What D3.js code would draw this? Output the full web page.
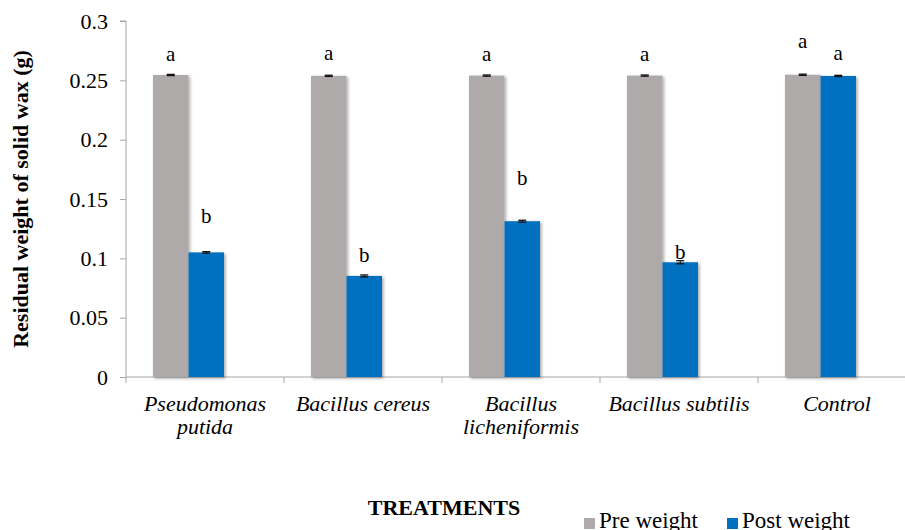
<!DOCTYPE html>
<html>
<head>
<meta charset="utf-8">
<script src="https://cdn.jsdelivr.net/npm/d3@7"></script>
<style>
  html, body { margin: 0; padding: 0; background: #ffffff; }
  svg { display: block; font-family: "Liberation Serif", "Times New Roman", serif; }
  text { font-family: "Liberation Serif", "Times New Roman", serif; fill: #000; }
</style>
</head>
<body>
<svg id="chart" width="905" height="530"></svg>
<script>
// Treatments (each entry also split into the lines it is drawn on)
const categories = ["Pseudomonas putida", "Bacillus cereus", "Bacillus licheniformis", "Bacillus subtilis", "Control"];
const categoryLines = [["Pseudomonas", "putida"], ["Bacillus cereus"], ["Bacillus", "licheniformis"], ["Bacillus subtilis"], ["Control"]];

// Residual weight of solid wax (g)
const preWeight  = [0.2545, 0.2538, 0.2540, 0.2540, 0.2547];
const postWeight = [0.1050, 0.0852, 0.1313, 0.0967, 0.2537];
const preErr     = [0.0005, 0.0005, 0.0005, 0.0005, 0.0005];
const postErr    = [0.0006, 0.0008, 0.0008, 0.0013, 0.0005];

// Significance letters and the height (g) at which each one sits
const preLetters   = ["a", "a", "a", "a", "a"];
const postLetters  = ["b", "b", "b", "b", "a"];
const preLetterAt  = [0.266, 0.267, 0.266, 0.266, 0.277];
const postLetterAt = [0.130, 0.097, 0.162, 0.0995, 0.267];

const yTicks = [0, 0.05, 0.1, 0.15, 0.2, 0.25, 0.3];
const seriesNames = ["Pre weight", "Post weight"];
const seriesColors = ["#AEAAAA", "#0070C0"];

const svg = d3.select("#chart");
const SERIF = "'Liberation Serif', 'Times New Roman', serif";

// Plot frame
const x0 = 126, yTop = 21, yBase = 377, bandW = 158;
const x = d3.scaleBand().domain(categories).range([x0, x0 + bandW * categories.length]).padding(0);
const y = d3.scaleLinear().domain([0, 0.3]).range([yBase, yTop]);
const barW = 35.5, groupInset = 27;
const sx = d3.scaleBand().domain(seriesNames).range([groupInset, groupInset + 2 * barW]).padding(0);

// Soft outer shadow on bars
const defs = svg.append("defs");
const f = defs.append("filter").attr("id", "shadow").attr("x", "-20%").attr("y", "-5%").attr("width", "150%").attr("height", "115%");
f.append("feDropShadow").attr("dx", 1.5).attr("dy", 1.5).attr("stdDeviation", 1.8)
  .attr("flood-color", "#000").attr("flood-opacity", 0.35);

const rows = categories.map((c, i) => ({
  cat: c, lines: categoryLines[i],
  vals: [
    { s: seriesNames[0], v: preWeight[i], e: preErr[i], letter: preLetters[i], at: preLetterAt[i], color: seriesColors[0] },
    { s: seriesNames[1], v: postWeight[i], e: postErr[i], letter: postLetters[i], at: postLetterAt[i], color: seriesColors[1] }
  ]
}));

// Y axis
const yAxis = d3.axisLeft(y).tickValues(yTicks).tickSize(6).tickPadding(12)
  .tickFormat(d => d === 0 ? "0" : String(+d.toFixed(2)));
const gy = svg.append("g").attr("transform", `translate(${x0},0)`).call(yAxis)
  .attr("font-family", SERIF).attr("font-size", 22);
gy.select(".domain").attr("stroke", "#A6A6A6").attr("stroke-width", 1)
  .attr("d", `M-6,${yTop}H0V${yBase + 6}`);
gy.selectAll(".tick line").attr("stroke", "#A6A6A6");
gy.selectAll(".tick text").style("font-family", SERIF).style("font-size", "22px").attr("fill", "#000");

// X axis
const boundaries = d3.range(categories.length + 1).map(i => x0 + i * x.bandwidth());
const gx = svg.append("g");
gx.append("line").attr("x1", x0).attr("x2", boundaries[boundaries.length - 1]).attr("y1", yBase).attr("y2", yBase)
  .attr("stroke", "#A6A6A6").attr("stroke-width", 1);
gx.selectAll("line.tk").data(boundaries.slice(1)).join("line").attr("class", "tk")
  .attr("x1", d => d).attr("x2", d => d).attr("y1", yBase).attr("y2", yBase + 6)
  .attr("stroke", "#A6A6A6");

// Bars
const groups = svg.append("g").selectAll("g.grp").data(rows).join("g").attr("class", "grp")
  .attr("transform", d => `translate(${x(d.cat)},0)`);

groups.selectAll("rect").data(d => d.vals).join("rect")
  .attr("x", d => sx(d.s)).attr("width", sx.bandwidth())
  .attr("y", d => y(d.v)).attr("height", d => y(0) - y(d.v))
  .attr("fill", d => d.color).attr("filter", "url(#shadow)");

// Error bars
const eb = groups.selectAll("g.err").data(d => d.vals).join("g").attr("class", "err");
eb.append("line").attr("x1", d => sx(d.s) + barW / 2).attr("x2", d => sx(d.s) + barW / 2)
  .attr("y1", d => y(d.v + d.e)).attr("y2", d => y(d.v - d.e)).attr("stroke", "#111").attr("stroke-width", 1);
eb.selectAll("line.cap").data(d => [d.v + d.e, d.v - d.e].map(v => ({ v, s: d.s }))).join("line").attr("class", "cap")
  .attr("x1", d => sx(d.s) + barW / 2 - 4).attr("x2", d => sx(d.s) + barW / 2 + 4)
  .attr("y1", d => y(d.v)).attr("y2", d => y(d.v)).attr("stroke", "#111").attr("stroke-width", 1.3);

// Significance letters
groups.selectAll("text.letter").data(d => d.vals).join("text").attr("class", "letter")
  .attr("x", d => sx(d.s) + barW / 2).attr("y", d => y(d.at))
  .attr("text-anchor", "middle").style("font-size", "21px").text(d => d.letter);

// Category labels
const cl = svg.append("g").selectAll("text").data(rows).join("text")
  .attr("x", d => x(d.cat) + x.bandwidth() / 2).attr("y", 411)
  .attr("text-anchor", "middle").style("font-size", "22px").style("font-style", "italic");
cl.selectAll("tspan").data(d => d.lines).join("tspan")
  .attr("x", function () { return this.parentNode.getAttribute("x"); })
  .attr("dy", (d, i) => i === 0 ? 0 : 23).text(d => d);

// Axis titles
svg.append("text").attr("transform", `translate(28,${(yTop + yBase) / 2}) rotate(-90)`)
  .attr("text-anchor", "middle").style("font-size", "22px").style("font-weight", "bold")
  .text("Residual weight of solid wax (g)");
svg.append("text").attr("x", 444).attr("y", 515).attr("text-anchor", "middle")
  .style("font-size", "22px").style("font-weight", "bold").text("TREATMENTS");

// Legend
const legendX = [584, 727];
const lg = svg.append("g").selectAll("g").data(seriesNames).join("g")
  .attr("transform", (d, i) => `translate(${legendX[i]},0)`);
lg.append("rect").attr("x", 0).attr("y", 518).attr("width", 11).attr("height", 11)
  .attr("fill", (d, i) => seriesColors[i]);
lg.append("text").attr("x", 15).attr("y", 528).style("font-size", "23px").text(d => d);
</script>
</body>
</html>
